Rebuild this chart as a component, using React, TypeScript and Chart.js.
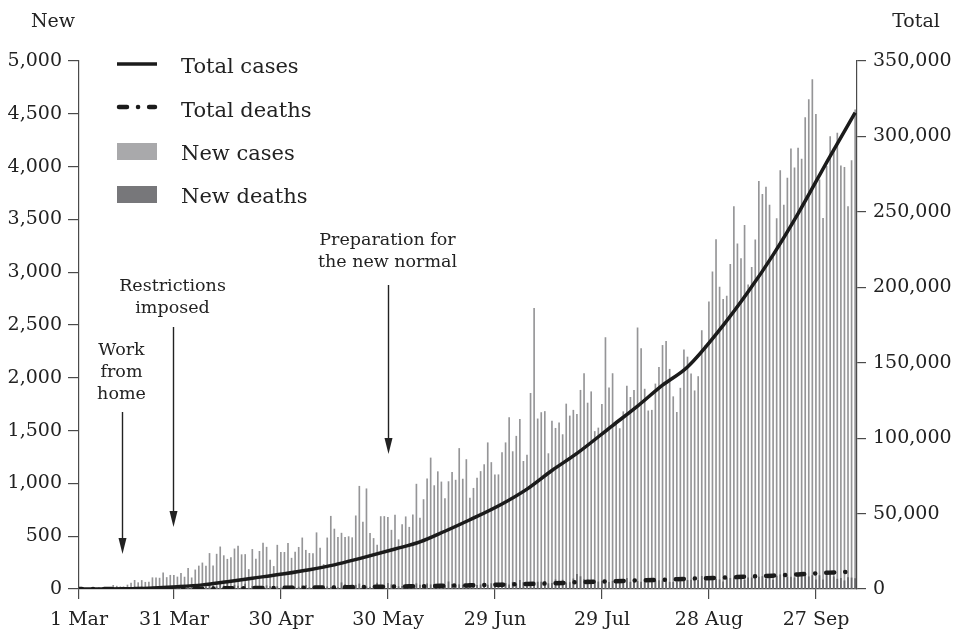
import { useEffect, useRef } from 'react';
import { Chart, registerables } from 'chart.js';
Chart.register(...registerables);

// day index 0 = 1 Mar 2020 (reported date)
const newCases: number[] = [
  // Mar
  0, 2, 0, 0, 0, 2, 0, 2, 13, 8, 7, 0, 35, 27, 21, 17, 38, 55, 82, 60, 81, 64, 65, 107, 105, 103, 153, 109, 130, 129, 114,
  // Apr
  149, 113, 196, 106, 181, 218, 247, 218, 337, 219, 330, 399, 316, 282, 297, 380, 407, 325, 327, 185, 375, 283, 357, 436, 396, 275, 214, 415, 347, 347,
  // May
  433, 292, 349, 395, 484, 367, 338, 336, 533, 387, 233, 484, 689, 568, 490, 529, 489, 496, 486, 693, 973, 634, 949, 526, 479, 415, 686, 687, 678, 557, 700,
  // Jun
  467, 609, 684, 585, 703, 993, 672, 847, 1043, 1241, 979, 1111, 1014, 857, 1017, 1106, 1031, 1331, 1041, 1226, 862, 954, 1051, 1113, 1178, 1385, 1198, 1082, 1082, 1293,
  // Jul
  1385, 1624, 1301, 1447, 1607, 1209, 1268, 1853, 2657, 1611, 1671, 1681, 1282, 1591, 1522, 1574, 1462, 1752, 1639, 1693, 1655, 1882, 2040, 1761, 1868, 1492, 1525, 1748, 2381, 1904, 2040,
  // Aug
  1560, 1519, 1679, 1922, 1815, 1882, 2473, 2277, 1893, 1687, 1693, 1942, 2098, 2307, 2345, 2081, 1821, 1673, 1902, 2266, 2197, 2037, 1877, 2012, 2447, 2306, 2719, 3003, 3308, 2858, 2743,
  // Sep
  2775, 3075, 3622, 3269, 3128, 3444, 2880, 3046, 3307, 3861, 3737, 3806, 3636, 3141, 3507, 3963, 3635, 3891, 4168, 3989, 4176, 4071, 4465, 4634, 4823, 4494, 3874, 3509, 4002, 4284,
  // Oct
  4174, 4317, 4007, 3992, 3622, 4056, 4538,
];

const newDeaths: number[] = [
  // Mar
  0, 0, 0, 0, 0, 0, 0, 0, 0, 0, 1, 0, 3, 1, 0, 0, 2, 12, 6, 7, 6, 10, 1, 6, 3, 20, 9, 15, 12, 8, 14,
  // Apr
  21, 13, 11, 10, 11, 12, 19, 19, 40, 26, 21, 46, 26, 60, 10, 37, 27, 15, 47, 8, 26, 12, 12, 8, 31, 23, 20, 22, 11, 8,
  // May
  8, 31, 14, 19, 31, 35, 13, 16, 14, 18, 16, 21, 15, 33, 13, 59, 43, 30, 21, 36, 48, 25, 21, 19, 27, 55, 23, 24, 53, 40, 28,
  // Jun
  22, 25, 40, 29, 38, 50, 36, 32, 49, 40, 41, 34, 38, 30, 68, 45, 27, 41, 37, 34, 35, 41, 35, 39, 42, 37, 51, 39, 51, 58,
  // Jul
  53, 40, 64, 47, 82, 61, 50, 58, 58, 66, 66, 71, 50, 54, 87, 76, 84, 58, 61, 96, 139, 117, 89, 89, 65, 66, 67, 74, 57, 62, 74,
  // Aug
  71, 64, 66, 100, 65, 65, 72, 65, 74, 59, 65, 79, 79, 77, 73, 65, 64, 65, 69, 82, 82, 85, 73, 82, 120, 104, 89, 105, 92, 87, 68,
  // Sep
  100, 101, 104, 104, 105, 85, 105, 106, 100, 114, 118, 92, 112, 85, 122, 135, 124, 114, 112, 105, 124, 160, 140, 116, 128, 87, 127, 87, 128, 139,
  // Oct
  116, 94, 102, 78, 107, 105, 98,
];

// cumulative totals read at sample days (day index since 1 Mar)
const totalDays: number[] = [1, 8, 15, 22, 30, 37, 44, 51, 60, 67, 74, 81, 91, 98, 105, 112, 121, 128, 135, 142, 152, 159, 166, 173, 183, 190, 197, 204, 213, 220];
const totalCases: number[] = [2, 19, 134, 579, 1528, 2738, 4839, 7135, 10118, 12776, 16006, 20162, 26473, 31186, 38277, 45891, 56385, 66226, 78572, 89869, 108376, 121226, 135123, 147211, 174796, 196989, 221523, 248852, 287008, 315714];
const totalDeaths: number[] = [0, 0, 5, 49, 136, 221, 459, 616, 792, 943, 1076, 1326, 1641, 1851, 2134, 2429, 2876, 3309, 3710, 4459, 5131, 5658, 6071, 6759, 7505, 8230, 8841, 9677, 10856, 11580];

const tickPositions: number[] = [2.41, 29.04, 59.04, 89.04, 119.04, 149.04, 179.04, 209.04];
const tickLabels: string[] = ['1 Mar', '31 Mar', '30 Apr', '30 May', '29 Jun', '29 Jul', '28 Aug', '27 Sep'];

const legendLabels: string[] = ['Total cases', 'Total deaths', 'New cases', 'New deaths'];

const FONT = "'DejaVu Serif', serif";
const TEXT = '#222';
const AXIS = '#4a4a4a';

export default function App() {
  const ref = useRef<HTMLCanvasElement>(null);
  useEffect(() => {
    document.body.style.margin = '0';
    const canvas = ref.current!;

    const decor = {
      id: 'decor',
      afterDraw(chart: any) {
        const c = chart.ctx as CanvasRenderingContext2D;
        const xs = chart.scales.x;
        const ys = chart.scales.y;
        c.save();
        c.fillStyle = TEXT;
        c.strokeStyle = TEXT;
        // axis titles
        c.font = `19px ${FONT}`;
        c.textAlign = 'center';
        c.textBaseline = 'alphabetic';
        c.fillText('New', 53, 27);
        c.fillText('Total', 916, 27);

        // legend
        const lx0 = 117, lx1 = 157, tx = 181;
        c.font = `21px ${FONT}`;
        c.textAlign = 'left';
        c.lineWidth = 3.5;
        c.strokeStyle = '#1b1b1b';
        c.beginPath(); c.moveTo(lx0, 64); c.lineTo(lx1, 64); c.stroke();
        c.lineWidth = 4.5;
        c.lineCap = 'round';
        c.setLineDash([8, 11, 0.1, 11]);
        c.beginPath(); c.moveTo(lx0 + 2, 107); c.lineTo(lx1 - 2, 107); c.stroke();
        c.setLineDash([]);
        c.lineCap = 'butt';
        c.fillStyle = '#a9a9ab';
        c.fillRect(lx0, 143, lx1 - lx0, 17);
        c.fillStyle = '#77777a';
        c.fillRect(lx0, 186, lx1 - lx0, 17);
        c.fillStyle = TEXT;
        const bl = [73, 117, 160, 203];
        legendLabels.forEach((t, i) => c.fillText(t, tx, bl[i]));

        // annotations
        c.font = `17.5px ${FONT}`;
        c.textAlign = 'center';
        c.textBaseline = 'middle';
        const notes = [
          { x: 14.6, lines: ['Work', 'from', 'home'], textY: [2263, 2055, 1847], from: 1676, to: 331 },
          { x: 28.8, lines: ['Restrictions', 'imposed'], textY: [2869, 2661], from: 2481, to: 587 },
          { x: 89.0, lines: ['Preparation for', 'the new normal'], textY: [3305, 3097], from: 2879, to: 1278 },
        ];
        for (const n of notes) {
          const px = Math.round(xs.getPixelForValue(n.x)) + 0.5;
          n.lines.forEach((t, i) => c.fillText(t, px - 1, ys.getPixelForValue(n.textY[i])));
          const y0 = ys.getPixelForValue(n.from);
          const y1 = ys.getPixelForValue(n.to);
          c.lineWidth = 1.4;
          c.strokeStyle = TEXT;
          c.beginPath(); c.moveTo(px, y0); c.lineTo(px, y1 - 12); c.stroke();
          c.beginPath();
          c.moveTo(px, y1);
          c.lineTo(px - 4, y1 - 16);
          c.lineTo(px + 4, y1 - 16);
          c.closePath();
          c.fill();
        }
        c.restore();
      },
    };

    const casesPts = newCases.map((v, i) => ({ x: i, y: v }));
    const deathsPts = newDeaths.map((v, i) => ({ x: i, y: v }));
    const totalCasePts = totalDays.map((d, i) => ({ x: d, y: totalCases[i] }));
    const totalDeathPts = totalDays.map((d, i) => ({ x: d, y: totalDeaths[i] }));

    const tickFont = { family: FONT, size: 19 };

    const chart = new Chart(canvas, {
      type: 'bar',
      data: {
        datasets: [
          {
            type: 'line',
            label: 'Total cases',
            data: totalCasePts,
            yAxisID: 'y1',
            borderColor: '#1b1b1b',
            borderWidth: 3.5,
            pointRadius: 0,
            cubicInterpolationMode: 'monotone',
            order: 0,
          } as any,
          {
            type: 'line',
            label: 'Total deaths',
            data: totalDeathPts,
            yAxisID: 'y1',
            borderColor: '#1b1b1b',
            borderWidth: 4.5,
            borderDash: [8, 11, 0.1, 11],
            borderCapStyle: 'round',
            pointRadius: 0,
            cubicInterpolationMode: 'monotone',
            order: 1,
          },
          {
            type: 'bar',
            label: 'New deaths',
            data: deathsPts,
            yAxisID: 'y',
            backgroundColor: '#666669',
            barThickness: 1,
            grouped: false,
            order: 2,
          },
          {
            type: 'bar',
            label: 'New cases',
            data: casesPts,
            yAxisID: 'y',
            backgroundColor: '#959597',
            barThickness: 1,
            grouped: false,
            order: 3,
          },
        ],
      },
      options: {
        responsive: false,
        devicePixelRatio: 1,
        animation: false,
        layout: { padding: { top: 61, left: 0, right: 0, bottom: 0 } },
        plugins: { legend: { display: false }, tooltip: { enabled: false } },
        scales: {
          x: {
            type: 'linear',
            position: 'bottom',
            min: tickPositions[0],
            max: 220.52,
            offset: false,
            grid: { display: true, drawOnChartArea: false, drawTicks: true, tickLength: 10, color: AXIS, lineWidth: 1.2, offset: false },
            border: { display: true, color: AXIS, width: 1.2 },
            ticks: {
              font: tickFont,
              color: TEXT,
              padding: 10,
              autoSkip: false,
              maxRotation: 0,
              callback: (v: any) => {
                const k = tickPositions.findIndex((p) => Math.abs(p - v) < 0.01);
                return k >= 0 ? tickLabels[k] : '';
              },
            },
            afterBuildTicks: (s: any) => {
              s.ticks = tickPositions.map((p) => ({ value: p }));
            },
            afterFit: (s: any) => {
              s.height = 46;
            },
          },
          y: {
            position: 'left',
            min: 0,
            max: 5000,
            grid: { display: true, drawOnChartArea: false, drawTicks: true, tickLength: 11, color: AXIS, lineWidth: 1.2 },
            border: { display: true, color: AXIS, width: 1.2 },
            ticks: {
              stepSize: 500,
              font: tickFont,
              color: TEXT,
              padding: 6,
              callback: (v: any) => Number(v).toLocaleString('en-US'),
            },
            afterFit: (s: any) => {
              s.width = 79;
            },
          },
          y1: {
            position: 'right',
            min: 0,
            max: 350000,
            grid: { display: true, drawOnChartArea: false, drawTicks: true, tickLength: 9, color: AXIS, lineWidth: 1.2 },
            border: { display: true, color: AXIS, width: 1.2 },
            ticks: {
              stepSize: 50000,
              font: tickFont,
              color: TEXT,
              padding: 7,
              callback: (v: any) => Number(v).toLocaleString('en-US'),
            },
            afterFit: (s: any) => {
              s.width = 101;
            },
          },
        },
      },
      plugins: [decor],
    } as any);
    return () => chart.destroy();
  }, []);
  return (
    <div style={{ position: 'fixed', left: 0, top: 0, width: 958, height: 635 }}>
      <canvas ref={ref} width={958} height={635} style={{ display: 'block', width: 958, height: 635 }} />
    </div>
  );
}
